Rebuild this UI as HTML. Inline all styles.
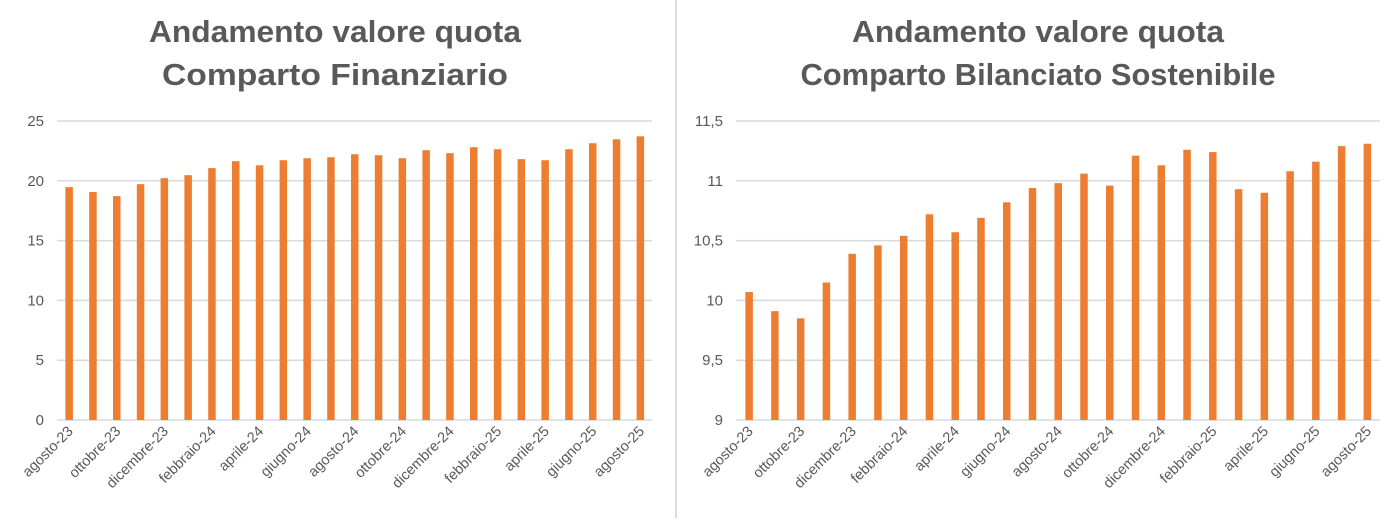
<!DOCTYPE html>
<html><head><meta charset="utf-8"><style>
body{margin:0;background:#fff;font-family:"Liberation Sans",sans-serif}
svg text{font-family:"Liberation Sans",sans-serif}
</style></head><body>
<svg id="s" width="1395" height="518"></svg>
<script>
const months=["agosto-23","settembre-23","ottobre-23","novembre-23","dicembre-23","gennaio-24","febbraio-24","marzo-24","aprile-24","maggio-24","giugno-24","luglio-24","agosto-24","settembre-24","ottobre-24","novembre-24","dicembre-24","gennaio-25","febbraio-25","marzo-25","aprile-25","maggio-25","giugno-25","luglio-25","agosto-25"];
const finValues=[19.47,19.06,18.72,19.72,20.22,20.47,21.06,21.64,21.3,21.72,21.89,21.97,22.22,22.14,21.89,22.56,22.31,22.81,22.64,21.81,21.72,22.64,23.14,23.47,23.72];
const bilValues=[10.07,9.91,9.85,10.15,10.39,10.46,10.54,10.72,10.57,10.69,10.82,10.94,10.98,11.06,10.96,11.21,11.13,11.26,11.24,10.93,10.90,11.08,11.16,11.29,11.31];
const finTicks=[0,5,10,15,20,25];
const finTickLabels=["0","5","10","15","20","25"];
const bilTicks=[9,9.5,10,10.5,11,11.5];
const bilTickLabels=["9","9,5","10","10,5","11","11,5"];
const NS="http://www.w3.org/2000/svg";
const svg=document.getElementById('s');
function mk(tag,attrs,parent){const e=document.createElementNS(NS,tag);for(const k in attrs)e.setAttribute(k,attrs[k]);(parent||svg).appendChild(e);return e;}
const div=mk('line',{x1:676,y1:0,x2:676,y2:518,stroke:'#d0d0d0','stroke-width':1.5});


function chart(cfg){
  const g=mk('g',{});
  
  
  const y=v=>cfg.y0-(v-cfg.min)/(cfg.max-cfg.min)*(cfg.y0-cfg.y1);
  const bw=(cfg.x1-cfg.x0)/cfg.cats.length;
  const x=i=>cfg.x0+bw*(i+0.5);
  cfg.title.forEach((t,i)=>{
    const tt=mk('text',{x:cfg.tx,y:42+i*43,'text-anchor':'middle','font-size':31,'font-weight':'bold',fill:'#595959',textLength:cfg.tlen[i],lengthAdjust:'spacingAndGlyphs'},g);
    tt.textContent=t;
    
    
  });
  cfg.ticks.forEach((v,i)=>{
    const gl=mk('line',{x1:cfg.x0,x2:cfg.x1,y1:y(v),y2:y(v),stroke:'#d9d9d9','stroke-width':1.5},g);
    
    
    const tl=mk('text',{x:cfg.x0-13,y:y(v)+5,'text-anchor':'end','font-size':15,fill:'#595959'},g);
    tl.textContent=cfg.tickLabels[i];
    
    
  });
  cfg.vals.forEach((v,i)=>{
    const r=mk('rect',{x:x(i)-3.5,y:y(v),width:7.5,height:y(cfg.min)-y(v),fill:'#ed7d31'},g);
    
    
  });
  cfg.cats.forEach((c,i)=>{
    if(i%2)return;
    const px=x(i)+5,py=cfg.y0+12;
    const l=mk('text',{x:px,y:py,'text-anchor':'end','font-size':14.5,fill:'#595959',transform:`rotate(-45 ${px} ${py})`},g);
    l.textContent=c;
    
    
  });
}
chart({name:'chart-finanziario',title:['Andamento valore quota','Comparto Finanziario'],tlen:[372,346],tx:335,cats:months,vals:finValues,ticks:finTicks,tickLabels:finTickLabels,min:0,max:25,x0:57,x1:652,y0:420,y1:121});
chart({name:'chart-bilanciato',title:['Andamento valore quota','Comparto Bilanciato Sostenibile'],tlen:[372,475],tx:1038,cats:months,vals:bilValues,ticks:bilTicks,tickLabels:bilTickLabels,min:9,max:11.5,x0:736,x1:1380,y0:420,y1:121});
</script>
</body></html>
